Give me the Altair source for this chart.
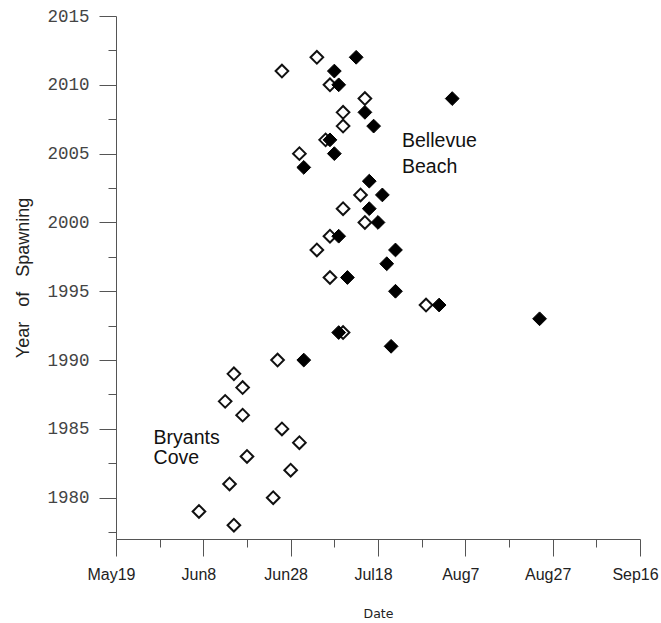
import altair as alt
import pandas as pd

# Bryants Cove (open diamonds): year and day-of-year of spawning
bc_years = [1978, 1979, 1980, 1981, 1982, 1983, 1984, 1985, 1986, 1987, 1988, 1989,
            1990, 1992, 1994, 1996, 1998, 1999, 2000, 2001, 2002, 2005, 2006, 2007,
            2008, 2009, 2010, 2011, 2012]
bc_days = [166, 158, 175, 165, 179, 169, 181, 177, 168, 164, 168, 166,
           176, 191, 210, 188, 185, 188, 196, 191, 195, 181, 187, 191,
           191, 196, 188, 177, 185]

# Bellevue Beach (filled diamonds)
bb_years = [1990, 1991, 1992, 1993, 1994, 1995, 1996, 1997, 1998, 1999, 2000, 2001,
            2002, 2003, 2004, 2005, 2006, 2007, 2008, 2009, 2010, 2011, 2012]
bb_days = [182, 202, 190, 236, 213, 203, 192, 201, 203, 190, 199, 197,
           200, 197, 182, 189, 188, 198, 196, 216, 190, 189, 194]

# Axis ticks
x_major = [139, 159, 179, 199, 219, 239, 259]
x_labels = ["May19", "Jun8", "Jun28", "Jul18", "Aug7", "Aug27", "Sep16"]
x_minor = [149, 169, 189, 209, 229, 249]
y_major = [1980, 1985, 1990, 1995, 2000, 2005, 2010, 2015]
y_minor = [1977.5, 1982.5, 1987.5, 1992.5, 1997.5, 2002.5, 2007.5, 2012.5]

# Annotations (anchored in data coordinates of their first line)
note_text = ["Bellevue\nBeach", "Bryants\nCove"]
note_days = [204.5, 147.6]
note_years = [2005.45, 1983.9]

df_bc = pd.DataFrame({"day": bc_days, "year": bc_years})
df_bb = pd.DataFrame({"day": bb_days, "year": bb_years})
df_bb_note = pd.DataFrame({"day": note_days[:1], "year": note_years[:1], "label": note_text[:1]})
df_bc_note = pd.DataFrame({"day": note_days[1:], "year": note_years[1:], "label": note_text[1:]})

label_expr = ""
for v, l in zip(x_major, x_labels):
    label_expr += f"datum.value == {v} ? '{l}' : "
label_expr += "''"

xs = alt.Scale(domain=[139, 259], nice=False, zero=False)
ys = alt.Scale(domain=[1977, 2015], nice=False, zero=False)

axis_col = "#555555"

major_x = alt.Axis(values=x_major, labelExpr=label_expr, orient="bottom", tickSize=17,
                   tickColor=axis_col, domainColor=axis_col, labelFont="Liberation Sans",
                   labelFontSize=16, labelColor="#222222", labelPadding=10, labelOffset=-5,
                   grid=False, labelFlush=False, labelOverlap=False,
                   title="Date", titleFont="DejaVu Sans", titleFontSize=12.5,
                   titleFontWeight="normal", titleColor="#222222", titleX=262, titleY=78,
                   titleAlign="center", titleBaseline="alphabetic")
major_y = alt.Axis(values=y_major, orient="left", tickSize=17, format="d",
                   tickColor=axis_col, domainColor=axis_col, labelFont="Liberation Mono",
                   labelFontSize=17.5, labelColor="#444444", labelPadding=10, grid=False,
                   labelFlush=False, labelOverlap=False,
                   title="Year\u00a0\u00a0 of\u00a0\u00a0 Spawning", titleFont="Liberation Sans",
                   titleFontSize=18, titleFontWeight="normal", titleColor="#222222",
                   titleAngle=270, titleX=-88, titleY=261.5, titleAlign="center",
                   titleBaseline="alphabetic")
minor_x = alt.Axis(values=x_minor, orient="bottom", tickSize=8, labels=False, domain=False,
                   grid=False, title="", tickColor=axis_col)
minor_y = alt.Axis(values=y_minor, orient="left", tickSize=8, labels=False, domain=False,
                   grid=False, title="", tickColor=axis_col)

open_layer = alt.Chart(df_bc).mark_point(
    shape="diamond", size=160, filled=False, strokeWidth=2, color="#111111", opacity=1
).encode(
    x=alt.X("day:Q", scale=xs, axis=major_x),
    y=alt.Y("year:Q", scale=ys, axis=major_y),
)

filled_layer = alt.Chart(df_bb).mark_point(
    shape="diamond", size=190, filled=True, color="#000000", opacity=1,
    stroke="#000000", strokeWidth=1
).encode(
    x=alt.X("day:Q", scale=xs, axis=minor_x),
    y=alt.Y("year:Q", scale=ys, axis=minor_y),
)

def note_layer(df, line_height):
    return alt.Chart(df).mark_text(
        align="left", baseline="alphabetic", font="Liberation Sans", fontSize=19.5,
        color="#111111", lineBreak="\n", lineHeight=line_height
    ).encode(
        x=alt.X("day:Q", scale=xs, axis=None),
        y=alt.Y("year:Q", scale=ys, axis=None),
        text="label:N",
    )

chart = alt.layer(
    open_layer, filled_layer, note_layer(df_bb_note, 26), note_layer(df_bc_note, 20)
).resolve_axis(
    x="independent", y="independent"
).properties(
    width=524, height=523,
    autosize=alt.AutoSizeParams(type="none"),
    padding={"left": 116, "top": 16, "right": 21, "bottom": 84},
).configure_view(strokeOpacity=0)

chart.save("out.html", embed_options={"renderer": "svg", "actions": False})
